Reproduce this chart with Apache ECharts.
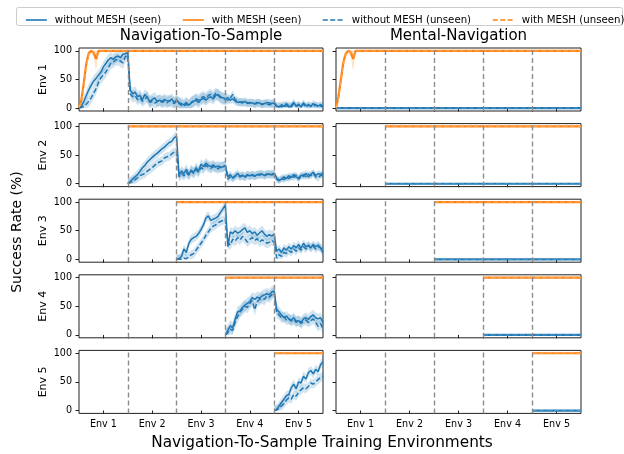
<!DOCTYPE html>
<html><head><meta charset="utf-8">
<script src="https://cdn.jsdelivr.net/npm/echarts@6/dist/echarts.min.js"></script>
<style>html,body{margin:0;padding:0;background:#fff}#c{width:624px;height:454px}</style>
</head><body><div id="c"></div>
<script>
// ---------- data ----------
const envTicks = ['Env 1', 'Env 2', 'Env 3', 'Env 4', 'Env 5'];
const rowLabels = ['Env 1', 'Env 2', 'Env 3', 'Env 4', 'Env 5'];
const colTitles = ['Navigation-To-Sample', 'Mental-Navigation'];
const seriesNames = ['without MESH (seen)', 'with MESH (seen)', 'without MESH (unseen)', 'with MESH (unseen)'];
const STEP = 0.05;            // evaluation spacing, in environments
const rowStart = [0, 1, 2, 3, 4];

// Navigation-To-Sample, without MESH (seen / unseen), one array per row
const navSeen1 = [0,3,12,22,32,40,47,52,58,63,72,78,84,88,85,89,91,88,94,95,97,
  32,25,28,20,22,15,24,18,12,15,18,12,14,12,15,13,12,16,10,14,
  10,8,6,10,5,9,12,14,10,15,17,14,18,20,16,22,24,20,18,17,
  18,14,16,12,10,11,9,12,8,10,9,8,10,9,7,8,10,9,8,9,
  4,2,6,3,8,2,5,10,3,7,2,9,4,6,3,8,5,4,6,3];
const navUnseen1 = [0,1,3,7,12,18,26,34,45,53,58,63,70,78,80,84,85,82,79,90,92,
  25,20,22,15,18,12,16,20,10,12,9,11,14,10,12,9,13,11,8,12,
  8,5,3,7,4,10,13,16,14,18,20,17,22,24,20,26,22,18,16,15,
  14,17,24,15,12,10,11,9,10,8,9,7,8,9,6,8,7,6,7,8,
  3,5,2,7,3,6,2,8,4,5,3,7,2,5,4,3,6,2,4,2];
const navSeen2 = [0,4,8,12,16,22,28,32,38,42,46,50,53,57,61,64,68,72,74,80,83,
  15,22,18,25,16,24,20,28,22,34,30,36,32,30,33,29,31,28,30,32,
  12,16,10,14,18,13,15,12,16,14,15,13,16,15,17,14,16,17,15,18,
  10,6,8,12,9,14,11,16,12,10,15,13,18,12,16,20,14,18,16,19];
const navUnseen2 = [0,2,5,7,10,14,16,18,22,25,28,32,36,38,40,45,47,48,52,55,56,
  12,18,14,20,15,22,18,24,20,28,26,32,29,27,30,28,26,30,29,31,
  8,12,9,13,15,12,14,11,15,13,16,14,15,17,16,15,17,16,18,16,
  8,5,10,7,12,9,13,11,15,8,13,16,12,17,14,18,12,10,15,14];
const navSeen3 = [0,1,5,18,12,28,35,38,40,45,52,60,72,76,68,70,72,75,82,88,95,
  22,48,45,50,46,48,52,55,47,50,45,48,42,46,50,44,40,43,41,44,
  14,18,12,20,16,22,18,24,20,26,19,28,22,24,20,26,22,25,20,12];
const navUnseen3 = [0,0,0,2,1,5,8,10,16,22,28,34,42,48,54,58,60,64,66,68,70,
  30,25,35,32,38,34,40,36,30,35,38,33,36,30,34,32,28,30,33,30,
  2,8,5,12,10,15,12,18,14,20,16,22,18,25,20,23,18,22,20,16];
const navSeen4 = [0,8,16,12,28,40,42,48,52,55,58,65,62,66,64,68,70,72,70,75,77,
  45,40,35,30,33,28,26,30,24,25,22,28,30,27,32,35,30,28,30,22];
const navUnseen4 = [0,4,10,8,22,32,40,45,50,48,55,60,44,58,62,64,62,68,66,70,74,
  38,35,30,32,26,28,24,27,22,25,20,24,26,22,25,28,22,15,20,10];
const navSeen5 = [0,2,8,14,20,26,28,40,46,38,50,48,60,55,66,70,64,72,68,80,85];
const navUnseen5 = [0,1,4,8,12,18,22,20,28,25,32,36,40,38,42,48,46,50,54,58,60];

// half-width of the shaded band, per environment segment of each row
const navBand1 = [10, 10, 10, 7, 6];
const navBand2 = [8, 9, 7, 6];
const navBand3 = [8, 9, 7];
const navBand4 = [10, 9];
const navBand5 = [8];

// with MESH: early ramp in Env 1, then flat at 100
const navMeshRampSeen = [2, 15, 45, 78, 96, 100, 97, 86, 100];
const navMeshRampUnseen = [1, 12, 40, 75, 94, 100, 99, 90, 100];
const mentalMeshRampSeen = [0, 20, 50, 80, 95, 100, 98, 86, 100];
const mentalMeshRampUnseen = [0, 16, 46, 78, 94, 100, 99, 90, 100];
const meshRampBand = [0, 6, 10, 10, 6, 3, 8, 22, 3];
const meshLevel = 100;
const mentalNoMeshLevel = 0;

const navSeen = [navSeen1, navSeen2, navSeen3, navSeen4, navSeen5];
const navUnseen = [navUnseen1, navUnseen2, navUnseen3, navUnseen4, navUnseen5];
const navBand = [navBand1, navBand2, navBand3, navBand4, navBand5];

// ---------- layout ----------
const BLUE = '#1f77b4', ORANGE = '#ff7f0e';
const FONT = 'DejaVu Sans';
const colLeft = [79, 336], colWidth = [244, 245];
const rowTop0 = 48, rowPitch = 75.6, rowH = 63;

const grids = [], xAxes = [], yAxes = [], series = [];

function pts(arr, start) { return arr.map((v, i) => [start + i * STEP, v]); }

function bandSeries(g, arr, start, spreads, color) {
  return {
    type: 'custom', xAxisIndex: g, yAxisIndex: g, silent: true, z: 1,
    data: [[start, 0]], clip: true,
    renderItem: function (params, api) {
      const up = [], lo = [];
      arr.forEach((v, i) => {
        const x = start + i * STEP;
        const seg = Math.min(spreads.length - 1, Math.max(0, Math.floor((i - 1) / 20)));
        const s = spreads[seg];
        up.push(api.coord([x, Math.min(100, v + s)]));
        lo.push(api.coord([x, Math.max(0, v - s)]));
      });
      return { type: 'polygon', shape: { points: up.concat(lo.reverse()) }, style: { fill: color } };
    }
  };
}

for (let r = 0; r < 5; r++) {
  for (let c = 0; c < 2; c++) {
    const g = r * 2 + c;
    const bottom = r === 4;
    grids.push({ left: colLeft[c], top: rowTop0 + r * rowPitch, width: colWidth[c], height: rowH,
      show: true, borderColor: '#222', borderWidth: 1, backgroundColor: 'transparent' });
    xAxes.push({ type: 'value', gridIndex: g, min: 0, max: 5,
      axisLine: { show: false }, splitLine: { show: false },
      axisTick: { show: true, length: 3.5, lineStyle: { color: '#222', width: 1 },
        customValues: [0.5, 1, 1.5, 2, 2.5, 3, 3.5, 4, 4.5] },
      axisLabel: { show: bottom, customValues: [0.5, 1.5, 2.5, 3.5, 4.5], margin: 6,
        fontSize: 9.6, fontFamily: FONT, color: '#000',
        formatter: v => envTicks[Math.floor(v)] } });
    yAxes.push({ type: 'value', gridIndex: g, min: -5, max: 105,
      axisLine: { show: false }, splitLine: { show: false },
      axisTick: { show: true, length: 3.5, lineStyle: { color: '#222', width: 1 }, customValues: [0, 50, 100] },
      axisLabel: { show: c === 0, customValues: [0, 50, 100], margin: 7, fontSize: 9.6, fontFamily: FONT, color: '#000' },
      name: c === 0 ? rowLabels[r] : '', nameLocation: 'middle', nameGap: 30, nameRotate: 90,
      nameTextStyle: { fontSize: 11, fontFamily: FONT, color: '#000' } });

    // environment boundaries
    series.push({ type: 'line', xAxisIndex: g, yAxisIndex: g, data: [], z: 2, silent: true,
      markLine: { silent: true, symbol: ['none', 'none'], label: { show: false }, animation: false,
        lineStyle: { color: '#8c8c8c', type: [5, 3], width: 1.4 },
        data: [1, 2, 3, 4].map(x => ({ xAxis: x })) } });

    const st = rowStart[r];
    if (c === 0) {
      series.push(bandSeries(g, navSeen[r], st, navBand[r], 'rgba(31,119,180,0.2)'));
      series.push(bandSeries(g, navUnseen[r], st, navBand[r], 'rgba(31,119,180,0.2)'));
      series.push({ name: seriesNames[0], type: 'line', xAxisIndex: g, yAxisIndex: g, data: pts(navSeen[r], st),
        symbol: 'none', z: 3, color: BLUE, lineStyle: { color: BLUE, width: 1.5 } });
      series.push({ name: seriesNames[2], type: 'line', xAxisIndex: g, yAxisIndex: g, data: pts(navUnseen[r], st),
        symbol: 'none', z: 3, color: BLUE, lineStyle: { color: BLUE, width: 1.5, type: [5, 2.4] } });
    } else {
      const flat = [[st, mentalNoMeshLevel], [5, mentalNoMeshLevel]];
      series.push({ name: seriesNames[0], type: 'line', xAxisIndex: g, yAxisIndex: g, data: flat,
        symbol: 'none', z: 3, color: BLUE, lineStyle: { color: BLUE, width: 2.2 } });
      series.push({ name: seriesNames[2], type: 'line', xAxisIndex: g, yAxisIndex: g, data: flat,
        symbol: 'none', z: 3, color: BLUE, lineStyle: { color: '#4a93c6', width: 1.2, type: [5, 2.4] } });
    }
    // with MESH
    let oSeen, oUnseen;
    if (r === 0) {
      const rs = c === 0 ? navMeshRampSeen : mentalMeshRampSeen;
      const ru = c === 0 ? navMeshRampUnseen : mentalMeshRampUnseen;
      series.push({ type: 'custom', xAxisIndex: g, yAxisIndex: g, silent: true, z: 1, data: [[0, 0]],
        renderItem: function (p, api) {
          const up = [], lo = [];
          rs.forEach((v, i) => {
            up.push(api.coord([i * STEP, Math.min(100, v + meshRampBand[i])]));
            lo.push(api.coord([i * STEP, Math.max(0, v - meshRampBand[i])]));
          });
          return { type: 'polygon', shape: { points: up.concat(lo.reverse()) }, style: { fill: 'rgba(255,127,14,0.22)' } };
        } });
      oSeen = pts(rs, 0).concat([[5, meshLevel]]);
      oUnseen = pts(ru, 0).concat([[5, meshLevel]]);
    } else {
      oSeen = [[st, meshLevel], [5, meshLevel]];
      oUnseen = [[st, meshLevel], [5, meshLevel]];
    }
    series.push({ name: seriesNames[1], type: 'line', xAxisIndex: g, yAxisIndex: g, data: oSeen,
      symbol: 'none', z: 4, color: ORANGE, lineStyle: { color: ORANGE, width: 2.2 } });
    series.push({ name: seriesNames[3], type: 'line', xAxisIndex: g, yAxisIndex: g, data: oUnseen,
      symbol: 'none', z: 4, color: ORANGE, lineStyle: { color: '#ffa54f', width: 1.2, type: [5, 2.4] } });
  }
}

const legendLefts = [20, 177, 317, 487];
const legendDash = [null, null, [5, 2.4], [5, 2.4]];
const legendColor = [BLUE, ORANGE, BLUE, ORANGE];
const legends = seriesNames.map((n, i) => ({
  data: [n], left: legendLefts[i], top: 10, itemWidth: 21, itemHeight: 10, selectedMode: false,
  itemStyle: { opacity: 0 },
  lineStyle: { color: legendColor[i], width: 1.6, type: legendDash[i] || 'solid' },
  textStyle: { fontSize: 10.2, fontFamily: FONT, color: '#000', padding: [0, 0, 0, 3] }
}));

const chart = echarts.init(document.getElementById('c'), null, { renderer: 'canvas' });
chart.setOption({
  animation: false,
  backgroundColor: '#fff',
  grid: grids, xAxis: xAxes, yAxis: yAxes, series: series,
  legend: legends,
  graphic: [
    { type: 'rect', left: 16, top: 7, z: -1, shape: { width: 606, height: 18, r: 2 },
      style: { fill: '#fff', stroke: '#cccccc', lineWidth: 1 } },
    { type: 'text', x: 201, y: 36, style: { text: colTitles[0], fontSize: 15, fontFamily: FONT, fill: '#000', textAlign: 'center', textVerticalAlign: 'middle' } },
    { type: 'text', x: 458.5, y: 36, style: { text: colTitles[1], fontSize: 15, fontFamily: FONT, fill: '#000', textAlign: 'center', textVerticalAlign: 'middle' } },
    { type: 'text', x: 322, y: 443, style: { text: 'Navigation-To-Sample Training Environments', fontSize: 15.3, fontFamily: FONT, fill: '#000', textAlign: 'center', textVerticalAlign: 'middle' } },
    { type: 'text', x: 17, y: 232, rotation: Math.PI / 2, style: { text: 'Success Rate (%)', fontSize: 14, fontFamily: FONT, fill: '#000', textAlign: 'center', textVerticalAlign: 'middle' } }
  ]
});
</script></body></html>
